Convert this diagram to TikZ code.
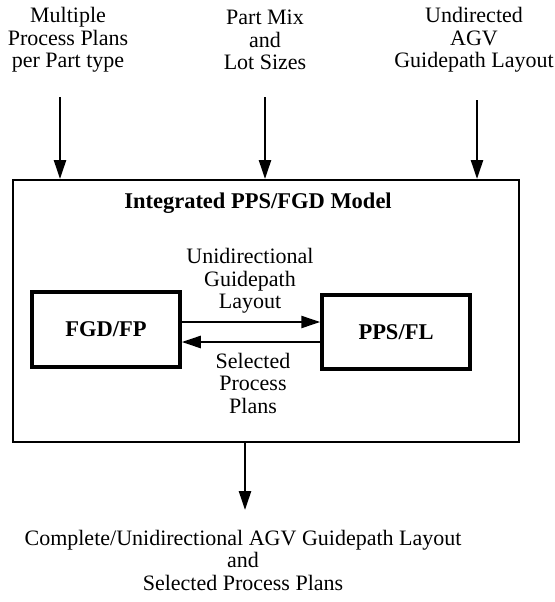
\documentclass[tikz,border=0pt]{standalone}
\usepackage{fontspec}
\setmainfont{Liberation Serif}
\usetikzlibrary{arrows.meta}
\begin{document}
\begin{tikzpicture}[x=1pt,y=-1pt,
  lbl/.style={align=center,inner sep=0pt,font=\fontsize{22}{22.5}\selectfont},
  bold/.style={align=center,inner sep=0pt,font=\fontsize{22.5}{22.5}\selectfont\bfseries},
  arr/.style={line width=2.5pt,-{Triangle[length=19pt,width=12pt]}},
  inbox/.style={draw,line width=3.5pt,inner sep=0pt,font=\fontsize{22.5}{22.5}\selectfont\bfseries}]
\useasboundingbox (0,0) rectangle (554,602);
% big box
\node[draw,line width=2pt,minimum width=506pt,minimum height=262pt,inner sep=0pt] (model) at (266,311) {};
\node[bold] (title) at (258,203) {Integrated PPS/FGD Model};
% inner boxes
\node[inbox,minimum width=148pt,minimum height=75pt] (fgd) at (106,329.5) {FGD/FP};
\node[inbox,minimum width=148pt,minimum height=74pt] (pps) at (396,332) {PPS/FL};
% inputs
\node[lbl] (in1) at (68,40) {Multiple\\Process Plans\\per Part type};
\node[lbl] (in2) at (265,40) {Part Mix\\and\\Lot Sizes};
\node[lbl] (in3) at (474,40) {Undirected\\AGV\\Guidepath Layout};
\coordinate (s1) at (60,97);
\coordinate (s2) at (265,97);
\coordinate (s3) at (477,100);
\draw[arr] (s1) -- (s1 |- model.north);
\draw[arr] (s2) -- (s2 |- model.north);
\draw[arr] (s3) -- (s3 |- model.north);
% inner arrows
\coordinate (a1) at (180,322);
\coordinate (a2) at (180,342);
\draw[arr] (fgd.east |- a1) -- (pps.west |- a1);
\draw[arr] (pps.west |- a2) -- (fgd.east |- a2);
\node[lbl] (l1) at (250,281) {Unidirectional\\Guidepath\\Layout};
\node[lbl] (l2) at (253,383) {Selected\\Process\\Plans};
% output
\coordinate (o) at (245,510);
\draw[arr] (o |- model.south) -- (o);
\node[lbl] (out) at (243,560) {Complete/Unidirectional AGV Guidepath Layout\\and\\Selected Process Plans};
\end{tikzpicture}
\end{document}
